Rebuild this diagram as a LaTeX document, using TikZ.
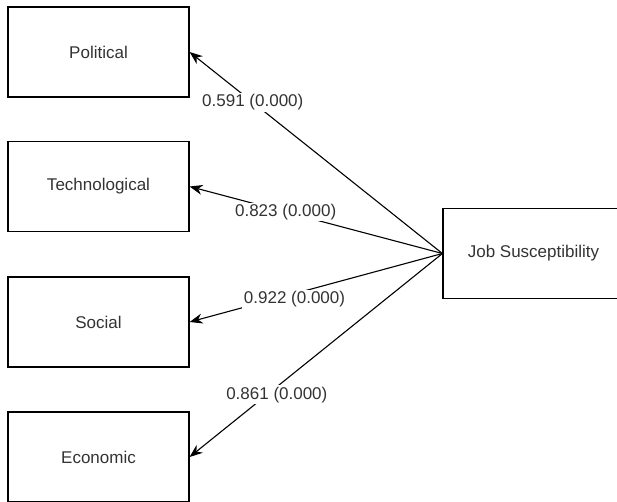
\documentclass[tikz,border=0pt]{standalone}
\usepackage{fontspec}
\setmainfont{Liberation Sans}
\usetikzlibrary{arrows.meta}

\begin{document}
\begin{tikzpicture}[
    x=1pt, y=-1pt,
    every node/.style = {font=\fontsize{17}{20}\selectfont, text=black!80},
    box/.style        = {draw, line width=1.2pt, minimum width=181pt, minimum height=90pt, inner sep=0pt},
    link/.style       = {line width=1.1pt, -{Stealth[length=13pt, width=10pt]}},
    coef/.style       = {fill=white, inner sep=1.5pt}
    ]
      \useasboundingbox (0,0) rectangle (617,501);

      % factors --------------------------------------------------
      \node[box] (pol)  at (98.5,52)   {Political};
      \node[box] (tech) at (98.5,186.5) {Technological};
      \node[box] (soc)  at (98.5,322)  {Social};
      \node[box] (eco)  at (98.5,457)  {Economic};

      % outcome --------------------------------------------------
      \node[box] (job)  at (533.5,253.5) {Job Susceptibility};

      % paths ----------------------------------------------------
      \draw[link] (job.west) -- node[coef, pos=0.75] {0.591 (0.000)} (pol.east);
      \draw[link] (job.west) -- node[coef, pos=0.62] {0.823 (0.000)} (tech.east);
      \draw[link] (job.west) -- node[coef, pos=0.585, yshift=-6pt] {0.922 (0.000)} (soc.east);
      \draw[link] (job.west) -- node[coef, pos=0.655, yshift=-8pt] {0.861 (0.000)} (eco.east);
\end{tikzpicture}
\end{document}
